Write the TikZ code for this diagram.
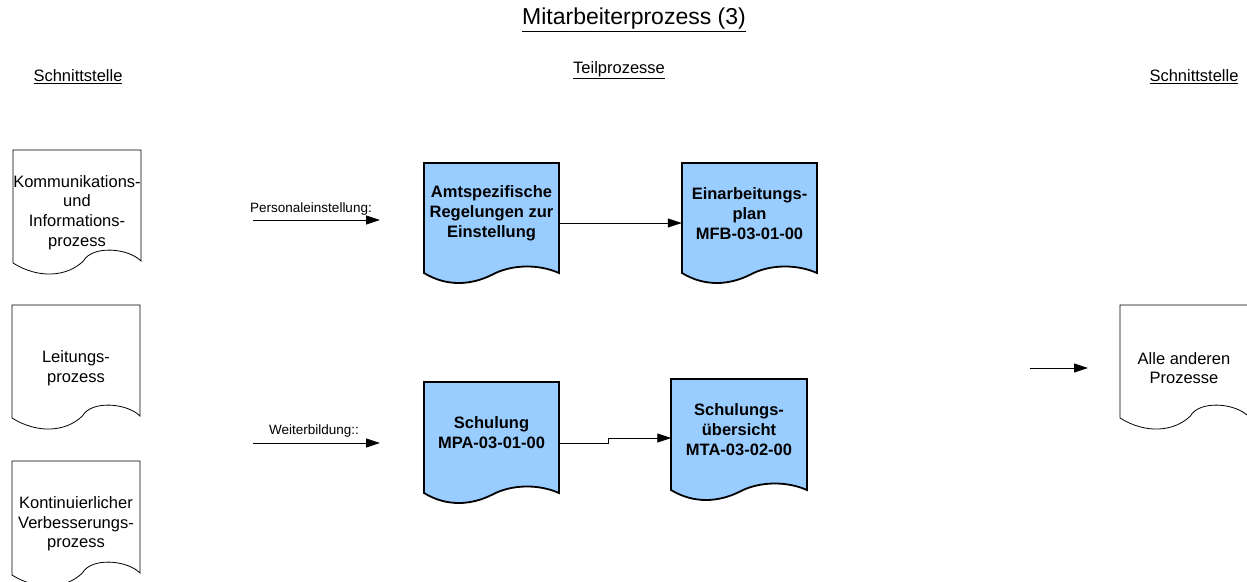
\documentclass[tikz,border=0pt]{standalone}
\usepackage{fontspec}
\setmainfont{Liberation Sans}
\usetikzlibrary{arrows.meta}
\definecolor{docblue}{HTML}{99CCFF}
\tikzset{
  whitedoc/.style={draw=black, line width=0.8pt, fill=white},
  bluedoc/.style={draw=black, line width=1.8pt, fill=docblue, line join=miter},
  ptxt/.style={font=\fontsize{16.5}{19.7}\selectfont, align=center, inner sep=0pt, minimum width=128pt},
  btxt/.style={font=\bfseries\fontsize{16.5}{20}\selectfont, align=center, inner sep=0pt, minimum width=135pt},
  smalltxt/.style={font=\fontsize{13.5}{16}\selectfont, inner sep=0pt},
  headtxt/.style={font=\fontsize{16.5}{19.7}\selectfont, inner sep=0pt},
  titletxt/.style={font=\fontsize{23}{27}\selectfont, inner sep=0pt},
  arr/.style={draw=black, line width=0.8pt, -{Triangle[length=14pt,width=9pt]}},
}
\newcommand\bluedocshape[4]{%
  \path[bluedoc] (#1,{#4-10}) -- (#1,#2) -- (#3,#2) -- (#3,{#4-10})
    .. controls ({#1+0.85*(#3-#1)},{#4-19}) and ({#1+0.65*(#3-#1)},{#4-19}) .. ({#1+0.5*(#3-#1)},{#4-8})
    .. controls ({#1+0.35*(#3-#1)},{#4+2}) and ({#1+0.17*(#3-#1)},{#4+4}) .. (#1,{#4-10}) -- cycle;}
\newcommand\whitedocshape[4]{%
  \path[whitedoc] (#1,{#4-10}) -- (#1,#2) -- (#3,#2) -- (#3,{#4-12})
    .. controls ({#1+0.9*(#3-#1)},{#4-25}) and ({#1+0.62*(#3-#1)},{#4-28}) .. ({#1+0.55*(#3-#1)},{#4-12})
    .. controls ({#1+0.42*(#3-#1)},{#4+4}) and ({#1+0.2*(#3-#1)},{#4+6}) .. (#1,{#4-10}) -- cycle;}
\begin{document}
\begin{tikzpicture}[x=1pt,y=-1pt]
\useasboundingbox (0,0) rectangle (1247,581);
% headers
\node[titletxt] (title) at (634,20) {\underline{Mitarbeiterprozess (3)}};
\node[headtxt] (hl) at (78,77) {\underline{Schnittstelle}};
\node[headtxt] (hr) at (1194,77) {\underline{Schnittstelle}};
\node[headtxt] (hm) at (619,70) {\underline{Teilprozesse}};
% left interface documents
\whitedocshape{13}{150}{141}{273}
\node[ptxt] (kom) at (77,212.5) {Kommunikations-\\und\\Informations-\\prozess};
\whitedocshape{12}{305}{140}{428}
\node[ptxt] (lei) at (76,368) {Leitungs-\\prozess};
\whitedocshape{12}{461}{140}{585}
\node[ptxt] (kvp) at (76,524) {Kontinuierlicher\\Verbesserungs-\\prozess};
% right interface document
\whitedocshape{1120}{305}{1248}{428}
\node[ptxt] (alle) at (1184,368) {Alle anderen\\Prozesse};
% blue process documents
\bluedocshape{424}{163}{559}{283}
\node[btxt] (amt) at (491.5,213) {Amtspezifische\\Regelungen zur\\Einstellung};
\bluedocshape{682}{163}{817}{283}
\node[btxt] (ein) at (749.5,214) {Einarbeitungs-\\plan\\MFB-03-01-00};
\bluedocshape{424}{382}{559}{503}
\node[btxt] (sch) at (491.5,433) {Schulung\\MPA-03-01-00};
\bluedocshape{671}{379}{807}{500}
\node[btxt] (sue) at (739,430) {Schulungs-\\übersicht\\MTA-03-02-00};
% connectors
\draw[arr] ([yshift=-10pt]amt.east) -- ([yshift=-9pt]ein.west);
\draw[arr] ([yshift=-10pt]sch.east) -- ++(49pt,0) |- ([yshift=-8pt]sue.west);
% input arrows
\coordinate (p1) at (253,220);
\coordinate (p2) at (380,220);
\draw[arr] (p1) -- (p2);
\node[smalltxt] (plab) at (311,209) {Personaleinstellung:};
\coordinate (w1) at (253,443);
\coordinate (w2) at (380,443);
\draw[arr] (w1) -- (w2);
\node[smalltxt] (wlab) at (314,431) {Weiterbildung::};
\coordinate (r1) at (1030,368);
\coordinate (r2) at (1088,368);
\draw[arr] (r1) -- (r2);
\end{tikzpicture}
\end{document}
